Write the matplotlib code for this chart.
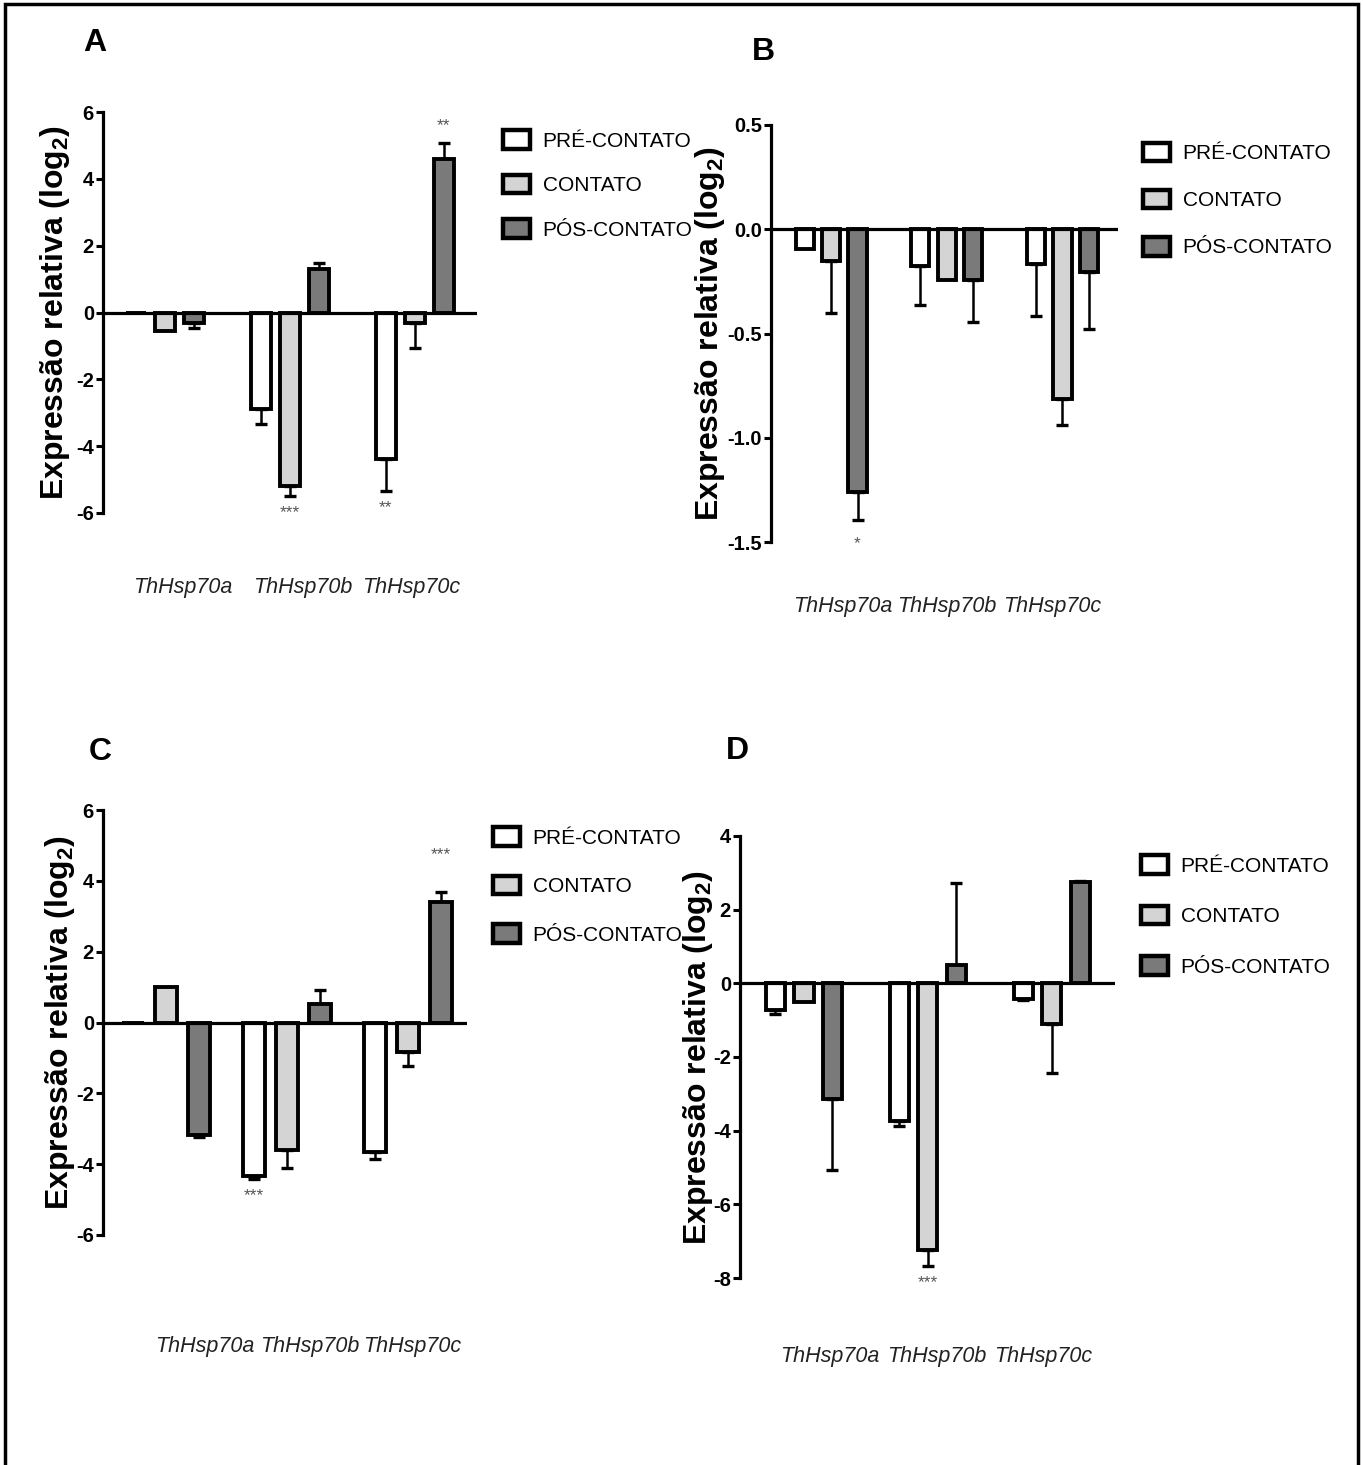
import matplotlib.pyplot as plt
from matplotlib.patches import Patch, Rectangle

genes = ['ThHsp70a', 'ThHsp70b', 'ThHsp70c']
conditions = ['PRÉ-CONTATO', 'CONTATO', 'PÓS-CONTATO']
colors = ['white', '#d4d4d4', '#7a7a7a']

# panel A  (mean, error) per condition
a_pre = [0.0, -2.89, -4.38]
a_pre_err = [0.0, 0.45, 0.95]
a_con = [-0.55, -5.18, -0.32]
a_con_err = [0.0, 0.30, 0.73]
a_pos = [-0.30, 1.29, 4.58]
a_pos_err = [0.17, 0.20, 0.50]
a_sig = [(1, 1, '***'), (2, 0, '**'), (2, 2, '**')]

# panel B
b_pre = [-0.097, -0.174, -0.165]
b_pre_err = [0.0, 0.19, 0.25]
b_con = [-0.153, -0.245, -0.815]
b_con_err = [0.25, 0.0, 0.125]
b_pos = [-1.258, -0.245, -0.205]
b_pos_err = [0.137, 0.20, 0.275]
b_sig = [(0, 2, '*')]

# panel C
c_pre = [0.0, -4.33, -3.67]
c_pre_err = [0.0, 0.10, 0.17]
c_con = [1.0, -3.59, -0.82]
c_con_err = [0.0, 0.53, 0.40]
c_pos = [-3.19, 0.53, 3.41]
c_pos_err = [0.05, 0.40, 0.27]
c_sig = [(1, 0, '***'), (2, 2, '***')]

# panel D
d_pre = [-0.72, -3.75, -0.42]
d_pre_err = [0.12, 0.12, 0.03]
d_con = [-0.52, -7.23, -1.10]
d_con_err = [0.0, 0.45, 1.34]
d_pos = [-3.14, 0.51, 2.74]
d_pos_err = [1.92, 2.22, 0.04]
d_sig = [(1, 1, '***')]

plt.rcParams['font.family'] = ['Liberation Sans', 'DejaVu Sans']
plt.rcParams['mathtext.default'] = 'regular'

W, H = 1363, 1465
fig = plt.figure(figsize=(W / 100, H / 100), dpi=100)


def px_rect(x0, y0, x1, y1):
    return [x0 / W, 1 - y1 / H, (x1 - x0) / W, (y1 - y0) / H]


def draw_panel(rect, means, errs, sig, ylim, yticks, yfmt, xlim, pitch, width,
               label_x, label_pad, ylab_x, letter, letter_xy, leg_xy, leg_sp,
               sig_off):
    ax = fig.add_axes(rect)
    for i in range(3):
        xs = [g + (i - 1) * pitch for g in range(3)]
        ax.bar(xs, means[i], width, color=colors[i], edgecolor='black',
               linewidth=2.8, zorder=2)
        for x, m, e in zip(xs, means[i], errs[i]):
            if e <= 0:
                continue
            lo, hi = (e, 0) if m < 0 else (0, e)
            ax.errorbar(x, m, yerr=[[lo], [hi]], fmt='none', ecolor='black',
                        elinewidth=1.8, capsize=4, capthick=2.4, zorder=1)
    for (g, i, txt), off in zip(sig, sig_off):
        x = g + (i - 1) * pitch
        m = means[i][g]
        end = m - errs[i][g] if m < 0 else m + errs[i][g]
        ax.annotate(txt, (x, end), xytext=(0, -off if m < 0 else off),
                    textcoords='offset points', ha='center', va='center',
                    fontsize=12.5, color='#555555')
    ax.axhline(0, color='black', lw=2.3, zorder=3)
    ax.set_xlim(*xlim)
    ax.set_ylim(*ylim)
    ax.set_yticks(yticks)
    ax.set_yticklabels([yfmt.format(t) for t in yticks], fontsize=14.5,
                       fontweight='bold')
    ax.set_xticks(label_x)
    ax.set_xticklabels(genes, fontsize=15.5, style='italic', color='#222222')
    ax.tick_params(axis='x', length=0, pad=label_pad)
    ax.tick_params(axis='y', length=5, width=2.2, pad=1.5, direction='out')
    for s in ['top', 'right', 'bottom']:
        ax.spines[s].set_visible(False)
    ax.spines['left'].set_linewidth(2.3)
    ax.set_ylabel('Expressão relativa (log$_2$)', fontsize=23,
                  fontweight='bold')
    ax.yaxis.set_label_coords(ylab_x, 0.5)
    fig.text(letter_xy[0] / W, 1 - letter_xy[1] / H, letter, fontsize=23,
             fontweight='bold', ha='center', va='center')
    handles = [Patch(facecolor=c, edgecolor='black', linewidth=3.2)
               for c in colors]
    ax.legend(handles, conditions, loc='center left',
              bbox_to_anchor=(leg_xy[0] / W, 1 - leg_xy[1] / H),
              bbox_transform=fig.transFigure, frameon=False,
              prop={'size': 15}, handlelength=1.3, handleheight=1.0,
              handletextpad=0.6, labelspacing=leg_sp,
              borderpad=0, borderaxespad=0)
    return ax


draw_panel(px_rect(103, 112, 477, 513),
           [a_pre, a_con, a_pos], [a_pre_err, a_con_err, a_pos_err], a_sig,
           (-6, 6), [-6, -4, -2, 0, 2, 4, 6], '{:g}', (-0.5, 2.5), 0.232, 0.16,
           [0.14, 1.10, 1.97], 46, -0.083, 'A', (95, 43), (503, 185), 1.15,
           [12, 12, 12])

draw_panel(px_rect(771, 125, 1118, 542),
           [b_pre, b_con, b_pos], [b_pre_err, b_con_err, b_pos_err], b_sig,
           (-1.5, 0.5), [-1.5, -1.0, -0.5, 0.0, 0.5], '{:.1f}', (-0.52, 2.48),
           0.228, 0.156, [0.10, 1.0, 1.91], 39, -0.126, 'B', (763, 52),
           (1143, 200), 1.28, [17])

draw_panel(px_rect(103, 810, 467, 1235),
           [c_pre, c_con, c_pos], [c_pre_err, c_con_err, c_pos_err], c_sig,
           (-6, 6), [-6, -4, -2, 0, 2, 4, 6], '{:g}', (-0.52, 2.49), 0.272, 0.18,
           [0.32, 1.19, 2.04], 73, -0.071, 'C', (100, 752), (493, 886), 1.35,
           [12, 27])

draw_panel(px_rect(740, 836, 1115, 1278),
           [d_pre, d_con, d_pos], [d_pre_err, d_con_err, d_pos_err], d_sig,
           (-8, 4), [-8, -6, -4, -2, 0, 2, 4], '{:g}', (-0.516, 2.51), 0.23,
           0.155, [0.21, 1.07, 1.93], 49, -0.067, 'D', (737, 751), (1141, 916),
           1.45, [12])

# outer frame
fig.add_artist(Rectangle((5 / W, -0.01), (1358 - 5) / W, (H - 4) / H + 0.01,
                         transform=fig.transFigure, fill=False,
                         edgecolor='black', linewidth=2.5))

fig.savefig('out.png', dpi=100, facecolor='white')
